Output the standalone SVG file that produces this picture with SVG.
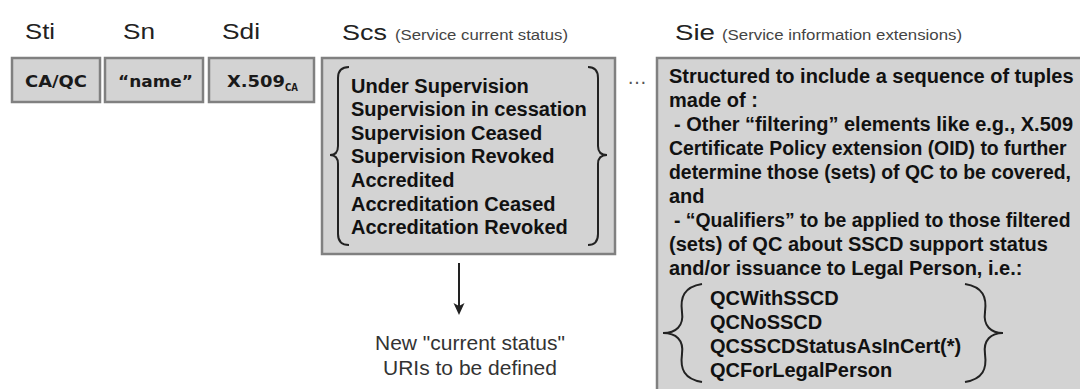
<svg xmlns="http://www.w3.org/2000/svg" width="1080" height="389" viewBox="0 0 1080 389">
<style>
.box{fill:#d3d3d3;stroke:#808080;stroke-width:2.5}
.hd{font-family:"Liberation Sans",Arial,sans-serif;font-size:22px;fill:#222}
.sub{font-family:"Liberation Sans",Arial,sans-serif;font-size:14px;fill:#444}
.sm{font-family:"DejaVu Sans",Verdana,sans-serif;font-weight:bold;font-size:16px;fill:#1a1a1a}
.b{font-family:"Liberation Sans",Arial,sans-serif;font-weight:bold;font-size:20px;fill:#111}
.n{font-size:19.4px}
.cap{font-family:"Liberation Sans",Arial,sans-serif;font-size:21px;fill:#333;text-anchor:middle}
.br{fill:none;stroke:#222;stroke-width:2}
</style>
<rect width="1080" height="389" fill="#fff"/>

<g id="headers">
<text class="hd" x="25" y="39" textLength="30" lengthAdjust="spacingAndGlyphs">Sti</text>
<text class="hd" x="123" y="39" textLength="32" lengthAdjust="spacingAndGlyphs">Sn</text>
<text class="hd" x="222" y="39" textLength="38" lengthAdjust="spacingAndGlyphs">Sdi</text>
<text class="hd" x="342" y="40" textLength="45" lengthAdjust="spacingAndGlyphs">Scs</text>
<text class="sub" x="395" y="40" textLength="173" lengthAdjust="spacingAndGlyphs">(Service current status)</text>
<text class="hd" x="675" y="40" textLength="40" lengthAdjust="spacingAndGlyphs">Sie</text>
<text class="sub" x="722" y="40" textLength="240" lengthAdjust="spacingAndGlyphs">(Service information extensions)</text>
</g>

<g id="sti">
<rect class="box" x="12" y="58" width="88" height="44"/>
<text class="sm" x="25" y="87" textLength="62" lengthAdjust="spacingAndGlyphs">CA/QC</text>
</g>
<g id="sn">
<rect class="box" x="105" y="58" width="98" height="44"/>
<text class="sm" x="118" y="87" textLength="75" lengthAdjust="spacingAndGlyphs">“name”</text>
</g>
<g id="sdi">
<rect class="box" x="209" y="58" width="105" height="44"/>
<text class="sm" x="227" y="87" textLength="58" lengthAdjust="spacingAndGlyphs">X.509</text>
<text class="sm" x="285" y="91" style="font-size:10px" textLength="13" lengthAdjust="spacingAndGlyphs">CA</text>
</g>

<g id="scs">
<rect class="box" x="322" y="58" width="293" height="196"/>
<path class="br" d="M349,67 Q338,67 338,78 L338,146 Q338,155 330,155 Q338,155 338,164 L338,234 Q338,245 349,245"/>
<path class="br" d="M588,67 Q598,67 598,78 L598,146 Q598,155 607,155 Q598,155 598,164 L598,234 Q598,245 588,245"/>
<text class="b" x="351" y="92.5">Under Supervision</text>
<text class="b" x="351" y="116.1">Supervision in cessation</text>
<text class="b" x="351" y="139.7">Supervision Ceased</text>
<text class="b" x="351" y="163.3">Supervision Revoked</text>
<text class="b" x="351" y="186.9">Accredited</text>
<text class="b" x="351" y="210.5">Accreditation Ceased</text>
<text class="b" x="351" y="234.1">Accreditation Revoked</text>
</g>

<g id="dots">
<text x="627" y="84" style="font-family:'Liberation Sans',Arial,sans-serif;font-size:20px;fill:#555">…</text>
</g>

<g id="sie">
<rect class="box" x="657" y="58" width="440" height="345"/>
<text class="b" x="669" y="83">Structured to include a sequence of tuples</text>
<text class="b" x="669" y="107">made of :</text>
<text class="b" x="674" y="131">- Other “filtering” elements like e.g., X.509</text>
<text class="b n" x="669" y="155">Certificate Policy extension (OID) to further</text>
<text class="b n" x="669" y="179">determine those (sets) of QC to be covered,</text>
<text class="b" x="669" y="203">and</text>
<text class="b n" x="674" y="227">- “Qualifiers” to be applied to those filtered</text>
<text class="b" x="669" y="251">(sets) of QC about SSCD support status</text>
<text class="b" x="669" y="275">and/or issuance to Legal Person, i.e.:</text>
<path class="br" d="M702,284 C684,287 680,297 682,312 C684,326 676,333 663,333 C676,333 684,340 682,354 C680,369 684,379 702,382"/>
<path class="br" d="M965,284 C983,287 987,297 985,312 C983,326 991,333 1003,333 C991,333 983,340 985,354 C987,369 983,379 965,382"/>
<text class="b" x="710" y="305">QCWithSSCD</text>
<text class="b" x="710" y="329">QCNoSSCD</text>
<text class="b" x="710" y="353">QCSSCDStatusAsInCert(*)</text>
<text class="b" x="710" y="377">QCForLegalPerson</text>
</g>

<g id="connectors">
<line x1="459" y1="263" x2="459" y2="306" stroke="#222" stroke-width="2"/>
<path d="M453.5,303 L459,315 L464.5,303 L459,306 Z" fill="#222"/>
</g>

<g id="caption">
<text class="cap" x="470" y="350">New "current status"</text>
<text class="cap" x="470" y="375">URIs to be defined</text>
</g>
</svg>
